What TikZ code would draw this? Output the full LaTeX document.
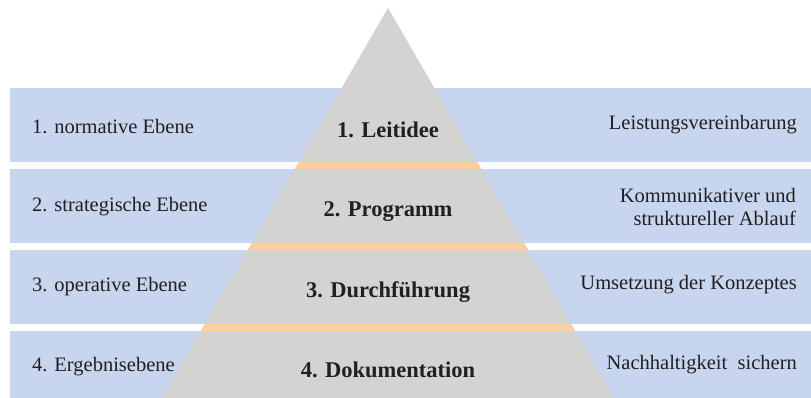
\documentclass[tikz,border=0pt]{standalone}
\usepackage{fontspec}
\setmainfont{Liberation Serif}
\definecolor{bandblue}{HTML}{C7D5EE}
\definecolor{pyrgray}{HTML}{D3D3D2}
\definecolor{stripeorange}{HTML}{FCD09D}
\definecolor{txt}{HTML}{231F20}
\begin{document}
\begin{tikzpicture}[x=1pt,y=-1pt,
  band/.style={fill=bandblue,draw=none,inner sep=0pt,minimum width=801pt,minimum height=74pt,anchor=north west},
  lefttext/.style={anchor=west,text=txt,font=\fontsize{20.5}{22}\selectfont,inner sep=0pt},
  righttext/.style={anchor=east,text=txt,align=right,font=\fontsize{20.5}{22.5}\selectfont,inner sep=0pt},
  midtext/.style={anchor=center,text=txt,font=\fontsize{22.5}{24}\selectfont\bfseries,inner sep=0pt}]
\useasboundingbox (0,0) rectangle (811,398);
\fill[white] (0,0) rectangle (811,398);
\node[band] (b1) at (10,88) {};
\node[band] (b2) at (10,169) {};
\node[band] (b3) at (10,250) {};
\node[band,minimum height=80pt] (b4) at (10,331) {};
\coordinate (apex) at (388,8);
\coordinate (bl) at (161,400);
\coordinate (br) at (615,400);
\fill[pyrgray] (apex) -- (bl) -- (br) -- cycle;
\begin{scope}
  \clip (apex) -- (bl) -- (br) -- cycle;
  \fill[stripeorange] (0,162) rectangle (811,169);
  \fill[stripeorange] (0,243) rectangle (811,250);
  \fill[stripeorange] (0,324) rectangle (811,331);
\end{scope}
\node[lefttext] (l1) at (32,127) {1. normative Ebene};
\node[lefttext] (l2) at (32,207) {2. strategische Ebene};
\node[lefttext] (l3) at (32,287) {3. operative Ebene};
\node[lefttext] (l4) at (32,367) {4. Ergebnisebene};
\node[midtext] (m1) at (388,130) {1. Leitidee};
\node[midtext] (m2) at (388,212) {2. Programm};
\node[midtext] (m3) at (388,292) {3. Durchführung};
\node[midtext] (m4) at (388,370) {4. Dokumentation};
\node[righttext] (r1) at (797,125) {Leistungsvereinbarung};
\node[righttext] (r2) at (796,207) {Kommunikativer und\\struktureller Ablauf};
\node[righttext] (r3) at (797,285) {Umsetzung der Konzeptes};
\node[righttext] (r4) at (797,365) {Nachhaltigkeit\ \ sichern};
\end{tikzpicture}
\end{document}
